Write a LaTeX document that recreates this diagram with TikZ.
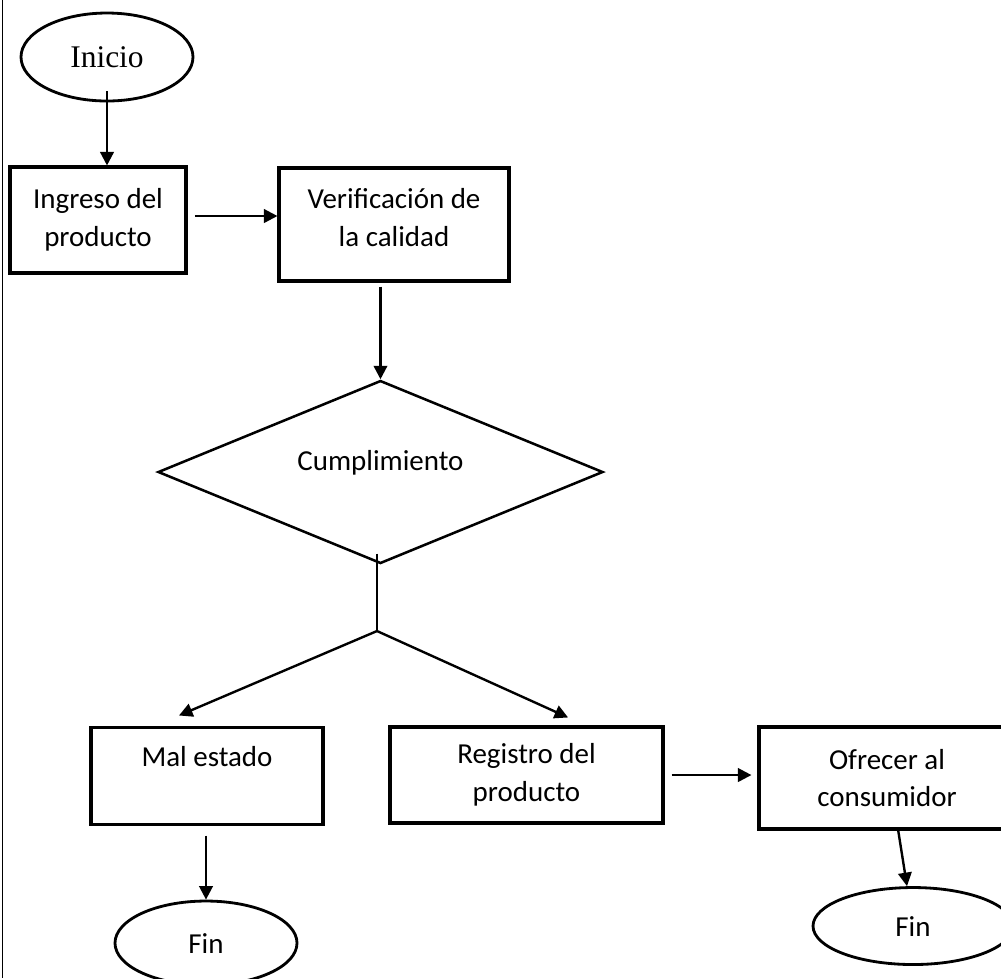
\documentclass[tikz,border=0pt]{standalone}
\usepackage{fontspec}
\setmainfont{Carlito}
\newfontfamily\seriffont{Liberation Serif}
\usetikzlibrary{arrows.meta, shapes.geometric}

\tikzset{
    caja/.style={draw, line width=1.1pt, align=center, inner sep=0pt, font=\fontsize{10.3}{13.5}\selectfont},
    terminal/.style={draw, ellipse, line width=1pt, inner sep=0pt, font=\fontsize{10.3}{13.5}\selectfont},
    decision/.style={draw, diamond, line width=0.9pt, inner sep=0pt, font=\fontsize{10.3}{13.5}\selectfont},
    flecha/.style={line width=0.85pt, -{Triangle[length=4.8pt, width=4.8pt]}},
    linea/.style={line width=0.85pt}
}

\begin{document}
\begin{tikzpicture}
            \useasboundingbox (0,0) rectangle (12.5125,-12.225);
            \clip (0,0) rectangle (12.5125,-12.225);
            \draw[line width=0.5pt] (0.03,0) -- (0.03,-12.225);
            % nodos
            \node[terminal, minimum width=2.15cm, minimum height=1.1cm, font=\fontsize{11.2}{13.5}\seriffont] (inicio) at (1.3375,-0.7125) {Inicio};
            \node[caja, minimum width=2.2cm, minimum height=1.325cm] (ingreso) at (1.225,-2.75) {Ingreso del\\producto};
            \node[caja, minimum width=2.875cm, minimum height=1.4125cm, text depth=0.17cm] (verif) at (4.925,-2.806) {Verificación de\\la calidad};
            \node[decision, minimum width=5.5625cm, minimum height=2.2875cm,
                  label={[font=\fontsize{10.3}{13.5}\selectfont, yshift=0.12cm]center:Cumplimiento}] (cumple) at (4.756,-5.9) {};
            \coordinate (rama) at (4.7125,-7.8875);
            \node[caja, minimum width=2.9cm, minimum height=1.2125cm] (malestado) at (2.5875,-9.694) {Mal estado\\~};
            \node[caja, minimum width=3.4125cm, minimum height=1.2cm] (registro) at (6.581,-9.6875) {Registro del\\producto};
            \node[caja, minimum width=3.2cm, minimum height=1.275cm] (ofrecer) at (11.0875,-9.725) {Ofrecer al\\consumidor};
            \node[terminal, minimum width=2.275cm, minimum height=1.05cm] (fin1) at (2.575,-11.7875) {Fin};
            \node[terminal, minimum width=2.5cm, minimum height=0.9625cm] (fin2) at (11.4125,-11.575) {Fin};
            % conectores
            \draw[flecha, shorten <=-0.14cm] (inicio.south) -- (inicio.south |- ingreso.north);
            \draw[flecha, shorten <=0.09cm] ([yshift=0.05cm]ingreso.east) -- ([yshift=0.05cm]ingreso.east -| verif.west);
            \draw[flecha, shorten <=0.05cm] (cumple.north |- verif.south) -- (cumple.north);
            \draw[linea, shorten <=-0.14cm] (rama |- cumple.south) -- (rama);
            \draw[flecha] (rama) -- ([xshift=-0.35cm, yshift=0.125cm]malestado.north);
            \draw[flecha] (rama) -- ([xshift=0.52cm, yshift=0.1cm]registro.north);
            \draw[flecha, shorten <=0.09cm, shorten >=0.075cm] (registro.east) -- (registro.east -| ofrecer.west);
            \draw[flecha, shorten <=0.125cm] (fin1.north |- malestado.south) -- (fin1.north);
            \draw[flecha] ([xshift=0.14cm]ofrecer.south) -- ([xshift=-0.075cm]fin2.north);
\end{tikzpicture}
\end{document}
